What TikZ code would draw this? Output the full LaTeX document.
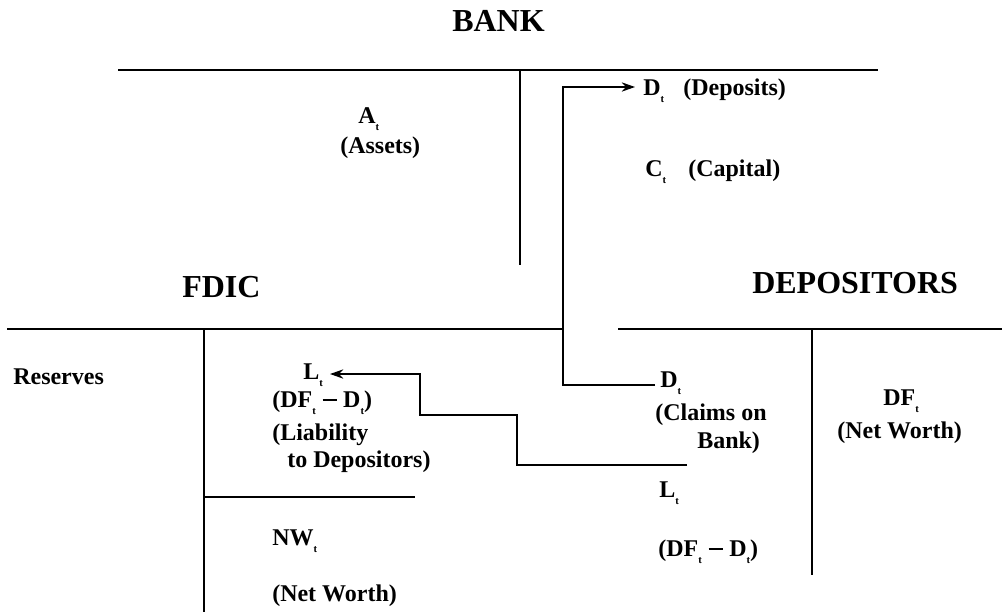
\documentclass[tikz,border=0pt]{standalone}
\usepackage{fontspec}
\setmainfont{Liberation Serif}
\usetikzlibrary{arrows.meta,calc}
\newcommand\sbt{\raisebox{-5.5pt}{\fontsize{8}{8}\selectfont t}}
\newcommand\mdash{\hspace{0.28em}\rule[4.6pt]{10.5pt}{1.4pt}\hspace{0.28em}}
\begin{document}
\begin{tikzpicture}[x=0.75pt,y=-0.75pt,
  title/.style={font=\fontsize{24}{24}\selectfont\bfseries,anchor=base west,inner sep=0pt},
  txt/.style={font=\fontsize{18}{18}\selectfont\bfseries,anchor=base west,inner sep=0pt},
  rule/.style={line width=1.3pt},
  flow/.style={line width=1.1pt,-{Stealth[length=10pt,width=7pt]}}]
\useasboundingbox (0,0) rectangle (1002,612);
% titles
\node[title] (bank) at (452,31) {BANK};
\node[title] (fdic) at (182,297) {FDIC};
\node[title] (dep) at (752,293) {DEPOSITORS};
% T-account rules
\draw[rule] (118,70) -- (878,70);
\draw[rule] (520,70) -- (520,265);
\draw[rule] (7,329) -- (563,329);
\draw[rule] (618,329) -- (1002,329);
\draw[rule] (204,329) -- (204,612);
\draw[rule] (204,497) -- (415,497);
\draw[rule] (812,329) -- (812,575);
% bank texts
\node[txt] (at) at (358,123) {A\sbt};
\node[txt] (assets) at (340,153) {(Assets)};
\node[txt] (dd) at (643,95) {D\sbt};
\node[txt] (deposits) at (683,95) {(Deposits)};
\node[txt] (cc) at (645,176) {C\sbt};
\node[txt] (capital) at (688,176) {(Capital)};
% FDIC texts
\node[txt] (reserves) at (13,384) {Reserves};
\node[txt] (lf) at (303,379) {L\sbt};
\node[txt] (dff) at (272,407) {(DF\sbt\mdash D\sbt)};
\node[txt] (liab) at (272,440) {(Liability};
\node[txt] (todep) at (287,467) {to Depositors)};
\node[txt] (nw) at (272,545) {NW\sbt};
\node[txt] (nwf) at (272,601) {(Net Worth)};
% depositors texts
\node[txt] (dc) at (660,387) {D\sbt};
\node[txt] (claims) at (655,420) {(Claims on};
\node[txt] (bankc) at (697,448) {Bank)};
\node[txt] (ld) at (659,497) {L\sbt};
\node[txt] (dfd) at (658,556) {(DF\sbt\mdash D\sbt)};
\node[txt] (df) at (883,405) {DF\sbt};
\node[txt] (nwd) at (837,438) {(Net Worth)};
% connectors
\coordinate (k1) at (563,87);
\draw[flow] ($(dc.base west)+(-5,-2)$) -| (k1) -- ($(dd.base west)+(-8,-8)$);
\coordinate (s2) at (687,465);
\coordinate (k2) at (517,415);
\coordinate (k3) at (420,374);
\draw[flow] (s2) -| (k2) -| (k3) -- ($(lf.base west)+(27,-5)$);
\end{tikzpicture}
\end{document}
